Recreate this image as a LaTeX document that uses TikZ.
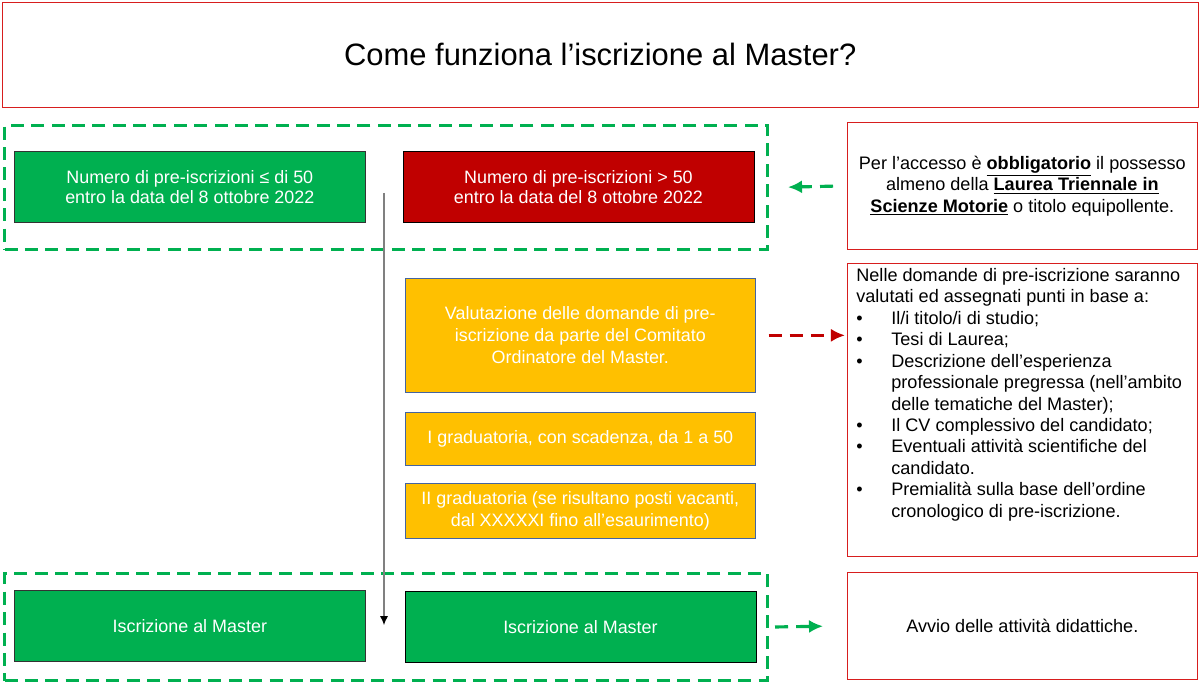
\documentclass[tikz,border=0pt]{standalone}
\usepackage{fontspec}
\setmainfont{Liberation Sans}
\usetikzlibrary{positioning}
\usetikzlibrary{arrows.meta}
\definecolor{verde}{RGB}{0,176,80}
\definecolor{rosso}{RGB}{192,0,0}
\definecolor{giallo}{RGB}{255,192,0}
\definecolor{bordo}{RGB}{68,100,160}
\definecolor{cornice}{RGB}{215,30,30}
\newcommand{\punto}{\par\noindent\hangindent=0.7cm\hangafter=1\makebox[0.7cm][l]{\textbullet}}

\begin{document}
\begin{tikzpicture}[x=0.02cm, y=-0.02cm,
        G/.style={draw=black!80, fill=verde, text=white, minimum width=7.02cm, minimum height=1.42cm, align=center, font=\fontsize{10.2}{11.6}\selectfont, anchor=north west},
        R/.style={G, fill=rosso, draw=black},
        Y/.style={draw=bordo, fill=giallo, text=white, minimum width=7cm, align=center, font=\fontsize{10.2}{12.4}\selectfont, anchor=north west},
        N/.style={draw=cornice, fill=white, minimum width=7cm, align=center, font=\fontsize{10.3}{12.2}\selectfont, anchor=north west},
        F/.style={draw=verde, line width=1.8pt, dash pattern=on 7.4pt off 4.2pt, inner sep=0pt, anchor=north west},
        A/.style={-{Latex[length=8pt,width=7.5pt]}, line width=1.8pt, dash pattern=on 7.4pt off 4.6pt}]
            \useasboundingbox (0,0) rectangle (1200,682);
            \node[draw=cornice, minimum width=23.92cm, minimum height=2.1cm, anchor=north west, font=\fontsize{17.6}{20}\selectfont] (titolo) at (2,2) {Come funziona l’iscrizione al Master?};
            % prima fila
            \node[F, minimum width=15.26cm, minimum height=2.48cm] (sopra) at (3,124) {};
            \node[G] (meno) at (14,151) {Numero di pre-iscrizioni ≤ di 50\\entro la data del 8 ottobre 2022};
            \node[R, right=0.74cm of meno] (piu) {Numero di pre-iscrizioni > 50\\entro la data del 8 ottobre 2022};
            \node[N, minimum height=2.54cm] (accesso) at (847,122) {Per l’accesso è \underline{\textbf{obbligatorio}} il possesso\\almeno della \underline{\textbf{Laurea Triennale in}}\\\underline{\textbf{Scienze Motorie}} o titolo equipollente.};
            % valutazione
            \node[Y, minimum height=2.28cm] (valuta) at (405,278) {Valutazione delle domande di pre-\\iscrizione da parte del Comitato\\Ordinatore del Master.};
            \node[Y, minimum height=1.06cm, below=0.38cm of valuta] (grad1) {I graduatoria, con scadenza, da 1 a 50};
            \node[Y, minimum height=1.1cm, below=0.36cm of grad1] (grad2) {II graduatoria (se risultano posti vacanti,\\dal XXXXXI fino all’esaurimento)};
            \node[N, align=left, inner xsep=0.18cm, inner ysep=0.1cm] (criteri) at (847,263) {\parbox[c][5.66cm][t]{6.64cm}{\raggedright Nelle domande di pre-iscrizione saranno\newline valutati ed assegnati punti in base a:
                \punto Il/i titolo/i di studio;
                \punto Tesi di Laurea;
                \punto Descrizione dell’esperienza\newline professionale pregressa (nell’ambito\newline delle tematiche del Master);
                \punto Il CV complessivo del candidato;
                \punto Eventuali attività scientifiche del\newline candidato.
                \punto Premialità sulla base dell’ordine\newline cronologico di pre-iscrizione.}};
            % iscrizione
            \node[F, minimum width=15.26cm, minimum height=2.14cm] (sotto) at (3,572) {};
            \node[G] (iscr1) at (14,590) {Iscrizione al Master};
            \node[G, draw=black, right=0.78cm of iscr1, yshift=-0.02cm] (iscr2) {Iscrizione al Master};
            \node[N, minimum height=2.14cm] (avvio) at (847,572) {Avvio delle attività didattiche.};
            % frecce
            \coordinate (inizio) at (384,193);
            \coordinate (fine) at (384,625);
            \draw[-{Latex[length=5pt,width=4.5pt,black]}, gray, line width=0.6pt] (inizio) -- (fine);
            \draw[A, verde, shorten <=0.28cm, shorten >=0.38cm] (accesso.west) -- (sopra.east);
            \draw[A, rosso, shorten <=0.26cm, shorten >=0.04cm] (valuta.east) -- (valuta.east -| criteri.west);
            \draw[A, verde, shorten <=0.12cm, shorten >=0.48cm] (sotto.east) -- (avvio.west);
        \end{tikzpicture}
\end{document}
